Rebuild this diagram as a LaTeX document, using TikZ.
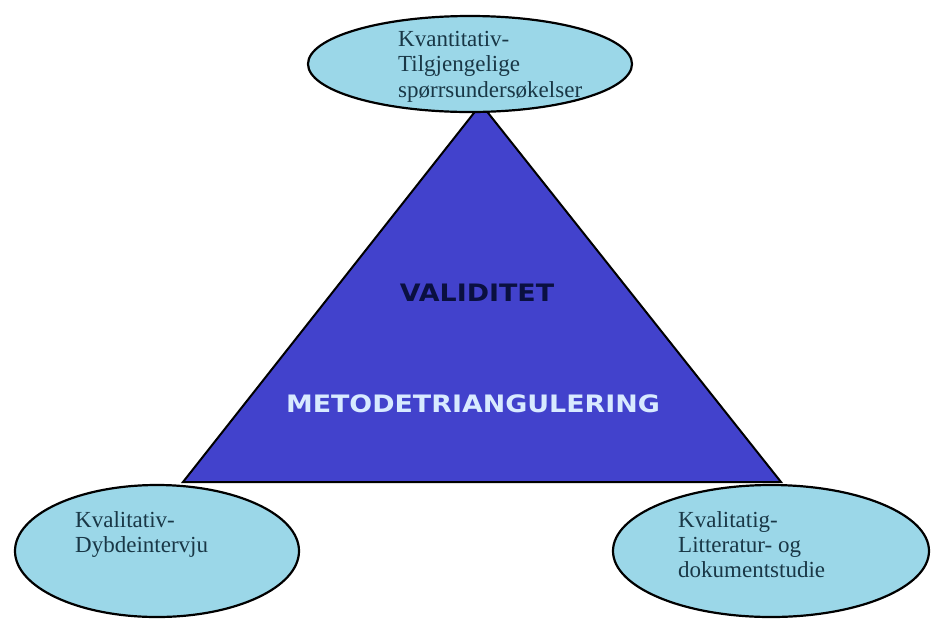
\documentclass[tikz,border=0pt]{standalone}
\usepackage{fontspec}
\setmainfont{Liberation Serif}
\newfontfamily\headfont{DejaVu Sans}
\usetikzlibrary{shapes.geometric}
\definecolor{ellfill}{RGB}{155,215,232}
\definecolor{trifill}{RGB}{66,66,204}
\definecolor{elltext}{RGB}{25,55,70}
\definecolor{valtext}{RGB}{10,16,64}
\definecolor{metotext}{RGB}{216,234,255}
\tikzset{
  oval/.style={ellipse, draw=black, line width=2.2pt, fill=ellfill, inner sep=0pt},
  ovaltext/.style={anchor=base west, inner sep=0pt, text=elltext, font=\fontsize{23}{25}\selectfont},
  headtext/.style={anchor=base, inner sep=0pt, font=\headfont\bfseries\fontsize{24}{28}\selectfont}
}
\begin{document}
\begin{tikzpicture}[x=1pt,y=-1pt]
\useasboundingbox (0,0) rectangle (931,619);
\fill[white] (0,0) rectangle (931,619);
% triangle
\coordinate (apex) at (481,104);
\coordinate (bl) at (183,482);
\coordinate (br) at (781,482);
\draw[fill=trifill, draw=black, line width=2pt, line join=miter] (apex) -- (bl) -- (br) -- cycle;
\node[headtext, text=valtext] (val) at (477,301) {\scalebox{1.12}[1]{VALIDITET}};
\node[headtext, text=metotext] (meto) at (473,412) {\scalebox{1.12}[1]{METODETRIANGULERING}};
% ellipses
\node[oval, minimum width=324pt, minimum height=96pt] (top) at (470,64) {};
\node[oval, minimum width=284pt, minimum height=132pt] (left) at (157,551) {};
\node[oval, minimum width=316pt, minimum height=132pt] (right) at (771,551) {};
% texts
\node[ovaltext] (t1) at (398,46) {Kvantitativ-};
\node[ovaltext] (t2) at (398,71.5) {Tilgjengelige};
\node[ovaltext] (t3) at (398,97) {spørrsundersøkelser};
\node[ovaltext] (l1) at (75,527) {Kvalitativ-};
\node[ovaltext] (l2) at (75,552) {Dybdeintervju};
\node[ovaltext] (r1) at (678,527) {Kvalitatig-};
\node[ovaltext] (r2) at (678,552) {Litteratur- og};
\node[ovaltext] (r3) at (678,577) {dokumentstudie};
\end{tikzpicture}
\end{document}
